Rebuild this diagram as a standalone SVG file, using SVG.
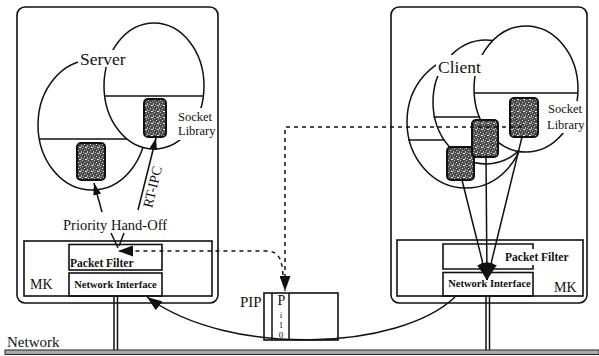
<svg xmlns="http://www.w3.org/2000/svg" width="599" height="356" viewBox="0 0 599 356">
<defs>
<style>
.ln{fill:none;stroke:#111;stroke-width:1.5}
.box{fill:none;stroke:#111;stroke-width:1.6}
.ell{fill:#fff;stroke:#111;stroke-width:1.5}
.blk{fill:url(#stip);stroke:#111;stroke-width:2}
.dash{fill:none;stroke:#111;stroke-width:1.5;stroke-dasharray:4 4}
.t{font-family:"Liberation Serif","Times New Roman",serif;fill:#111}
.b{font-weight:bold}
.bg{fill:#fff}
</style>
<pattern id="stip" width="6" height="6" patternUnits="userSpaceOnUse">
<rect width="6" height="6" fill="#4a4a4a"/>
<rect x="0" y="0" width="1" height="1" fill="#ddd"/>
<rect x="3" y="1" width="1" height="2" fill="#bbb"/>
<rect x="1" y="3" width="2" height="1" fill="#eee"/>
<rect x="4" y="4" width="1" height="1" fill="#ccc"/>
<rect x="5" y="2" width="1" height="1" fill="#aaa"/>
<rect x="2" y="5" width="1" height="1" fill="#999"/>
</pattern>
<marker id="aS" viewBox="0 0 12 8" refX="12" refY="4" markerWidth="12" markerHeight="8" orient="auto" markerUnits="userSpaceOnUse"><path d="M0,0L12,4L0,8z" fill="#111"/></marker>
<marker id="aM" viewBox="0 0 15 11" refX="15" refY="5.5" markerWidth="15" markerHeight="11" orient="auto" markerUnits="userSpaceOnUse"><path d="M0,0L15,5.5L0,11z" fill="#111"/></marker>
<marker id="aL" viewBox="0 0 17 12" refX="17" refY="6" markerWidth="17" markerHeight="12" orient="auto" markerUnits="userSpaceOnUse"><path d="M0,0L17,6L0,12z" fill="#111"/></marker>
</defs>
<rect width="599" height="356" fill="#fff"/>

<g id="network">
<rect x="5" y="350" width="594" height="4.5" fill="#aaa" stroke="#222" stroke-width="1"/>
<text class="t" x="7" y="347" font-size="15">Network</text>
<line class="ln" x1="114" y1="296" x2="114" y2="350"/>
<line class="ln" x1="117.5" y1="296" x2="117.5" y2="350"/>
<line class="ln" x1="486" y1="296" x2="486" y2="350"/>
<line class="ln" x1="489.5" y1="296" x2="489.5" y2="350"/>
</g>

<g id="server-host">
<rect class="box" x="17" y="7" width="201" height="296" rx="8"/>
<g id="server">
<ellipse class="ell" cx="92" cy="125" rx="54" ry="65"/>
<line class="ln" x1="39" y1="139" x2="142" y2="139"/>
<ellipse class="ell" cx="154" cy="86" rx="50" ry="63"/>
<line class="ln" x1="104.6" y1="96" x2="203.4" y2="96"/>
<rect class="bg" x="78" y="50" width="50" height="17"/>
<text class="t" x="80" y="65" font-size="17.5">Server</text>
<rect class="bg" x="176" y="108" width="40" height="32"/>
<text class="t" x="178" y="121" font-size="12.5">Socket</text>
<text class="t" x="178" y="135" font-size="12.5">Library</text>
<rect class="blk" x="77" y="143" width="28" height="37" rx="4"/>
<rect class="blk" x="144" y="99" width="22" height="38" rx="4"/>
</g>
<text class="t" x="63" y="230" font-size="14.5">Priority Hand-Off</text>
<text class="t" x="157" y="188" font-size="14" text-anchor="middle" transform="rotate(-76 157 188)">RT-IPC</text>
<g id="mk-left">
<rect class="box" x="24" y="241" width="188" height="55"/>
<rect class="box" x="69" y="244.5" width="93" height="25.5"/>
<text class="t b" x="70" y="267" font-size="11.5">Packet Filter</text>
<rect class="box" x="69" y="273" width="93" height="23"/>
<text class="t b" x="115.5" y="288" font-size="10.5" text-anchor="middle">Network Interface</text>
<text class="t" x="30" y="289" font-size="14">MK</text>
</g>
</g>

<g id="client-host">
<rect class="box" x="391" y="7" width="196" height="296" rx="8"/>
<g id="client">
<ellipse class="ell" cx="466" cy="122" rx="59" ry="66"/>
<line class="ln" x1="408" y1="140" x2="450" y2="140"/>
<ellipse class="ell" cx="486" cy="102" rx="53" ry="62"/>
<line class="ln" x1="433.5" y1="117" x2="490" y2="117"/>
<ellipse class="ell" cx="526" cy="89" rx="52" ry="63"/>
<line class="ln" x1="474" y1="93" x2="578" y2="93"/>
<rect class="bg" x="436" y="55" width="48" height="21"/>
<text class="t" x="438" y="73" font-size="17.5">Client</text>
<rect class="bg" x="545" y="101" width="36" height="32"/>
<text class="t" x="548" y="113" font-size="12.5">Socket</text>
<text class="t" x="547" y="129" font-size="12.5">Library</text>
<rect class="blk" x="447" y="147" width="27" height="33" rx="4"/>
<rect class="blk" x="472" y="120" width="26" height="37" rx="4"/>
<rect class="blk" x="510" y="98" width="28" height="39" rx="4"/>
</g>
<g id="mk-right">
<rect class="box" x="397" y="240" width="186" height="56"/>
<path class="box" d="M533,249V244H443V269H533V265"/>
<text class="t b" x="505" y="261" font-size="11.5">Packet Filter</text>
<rect class="box" x="443" y="272.5" width="90" height="23.5"/>
<text class="t b" x="489.5" y="287" font-size="10.5" text-anchor="middle">Network Interface</text>
<text class="t" x="554" y="292" font-size="14">MK</text>
</g>
</g>

<g id="pip">
<rect class="box" x="264" y="293" width="74" height="47"/>
<line class="ln" x1="272" y1="293" x2="272" y2="340"/>
<line class="ln" x1="289" y1="293" x2="289" y2="340"/>
<text class="t" x="240" y="307" font-size="15">PIP</text>
<text class="t" x="281.5" y="305" font-size="14" text-anchor="middle">P</text>
<text class="t" x="281" y="318" font-size="9" text-anchor="middle">i</text>
<text class="t" x="281" y="328" font-size="9" text-anchor="middle">1</text>
<text class="t" x="281" y="338" font-size="9" text-anchor="middle">0</text>
</g>

<g id="connectors">
<line class="ln" x1="102" y1="212" x2="94" y2="183" marker-end="url(#aS)"/>
<line class="ln" x1="138" y1="210" x2="156" y2="138" marker-end="url(#aS)"/>
<line class="ln" x1="111" y1="233" x2="118" y2="248"/>
<line class="ln" x1="124" y1="233" x2="119" y2="246"/>
<path class="dash" d="M522,127H285V291" marker-end="url(#aM)"/>
<path class="dash" d="M283,275C282,258 278,251 266,251H118" marker-end="url(#aM)"/>
<path class="ln" d="M455,297C400,350 230,358 147,297" marker-end="url(#aM)"/>
<line class="ln" x1="462" y1="180" x2="487" y2="280" marker-end="url(#aL)"/>
<line class="ln" x1="486" y1="157" x2="487" y2="280" marker-end="url(#aL)"/>
<line class="ln" x1="522" y1="137" x2="487" y2="280" marker-end="url(#aL)"/>
</g>
</svg>
